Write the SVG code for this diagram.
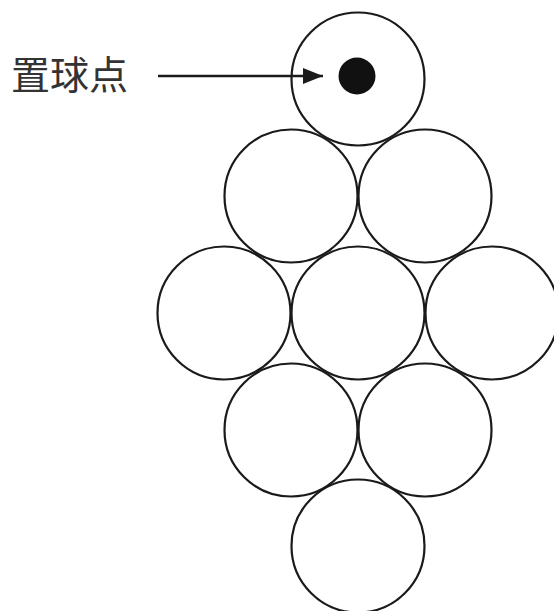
<svg xmlns="http://www.w3.org/2000/svg" width="554" height="611" viewBox="0 0 554 611">
<style>
.c{fill:none;stroke:#1a1a1a;stroke-width:2.2}
.t{font-family:"Noto Sans CJK SC","Noto Sans",sans-serif;font-size:39px;fill:#333}
</style>
<defs>
<marker id="ah" viewBox="0 0 10 10" refX="10" refY="5" markerWidth="10" markerHeight="8" markerUnits="userSpaceOnUse" orient="auto">
<path d="M0,0 L10,5 L0,10 Z" fill="#1a1a1a"/>
</marker>
<marker id="ah2" viewBox="0 0 20 16" refX="20" refY="8" markerWidth="20" markerHeight="16" markerUnits="userSpaceOnUse" orient="auto">
<path d="M0,0 L20,8 L0,16 Z" fill="#1a1a1a"/>
</marker>
</defs>
<rect width="554" height="611" fill="#fff"/>
<g id="label"><text class="t" x="11" y="89">置球点</text></g>
<g id="n1"><circle class="c" cx="358" cy="79" r="66.5"/><circle cx="357" cy="76" r="18.5" fill="#111"/></g>
<g id="n2"><circle class="c" cx="291" cy="196" r="66.5"/></g>
<g id="n3"><circle class="c" cx="425" cy="196" r="66.5"/></g>
<g id="n4"><circle class="c" cx="224" cy="313" r="66.5"/></g>
<g id="n5"><circle class="c" cx="358" cy="313" r="66.5"/></g>
<g id="n6"><circle class="c" cx="492" cy="313" r="66.5"/></g>
<g id="n7"><circle class="c" cx="291" cy="430" r="66.5"/></g>
<g id="n8"><circle class="c" cx="425" cy="430" r="66.5"/></g>
<g id="n9"><circle class="c" cx="358" cy="546" r="66.5"/></g>
<g id="connectors"><line x1="158" y1="76" x2="323" y2="76" stroke="#1a1a1a" stroke-width="2.5" marker-end="url(#ah2)"/></g>
</svg>
